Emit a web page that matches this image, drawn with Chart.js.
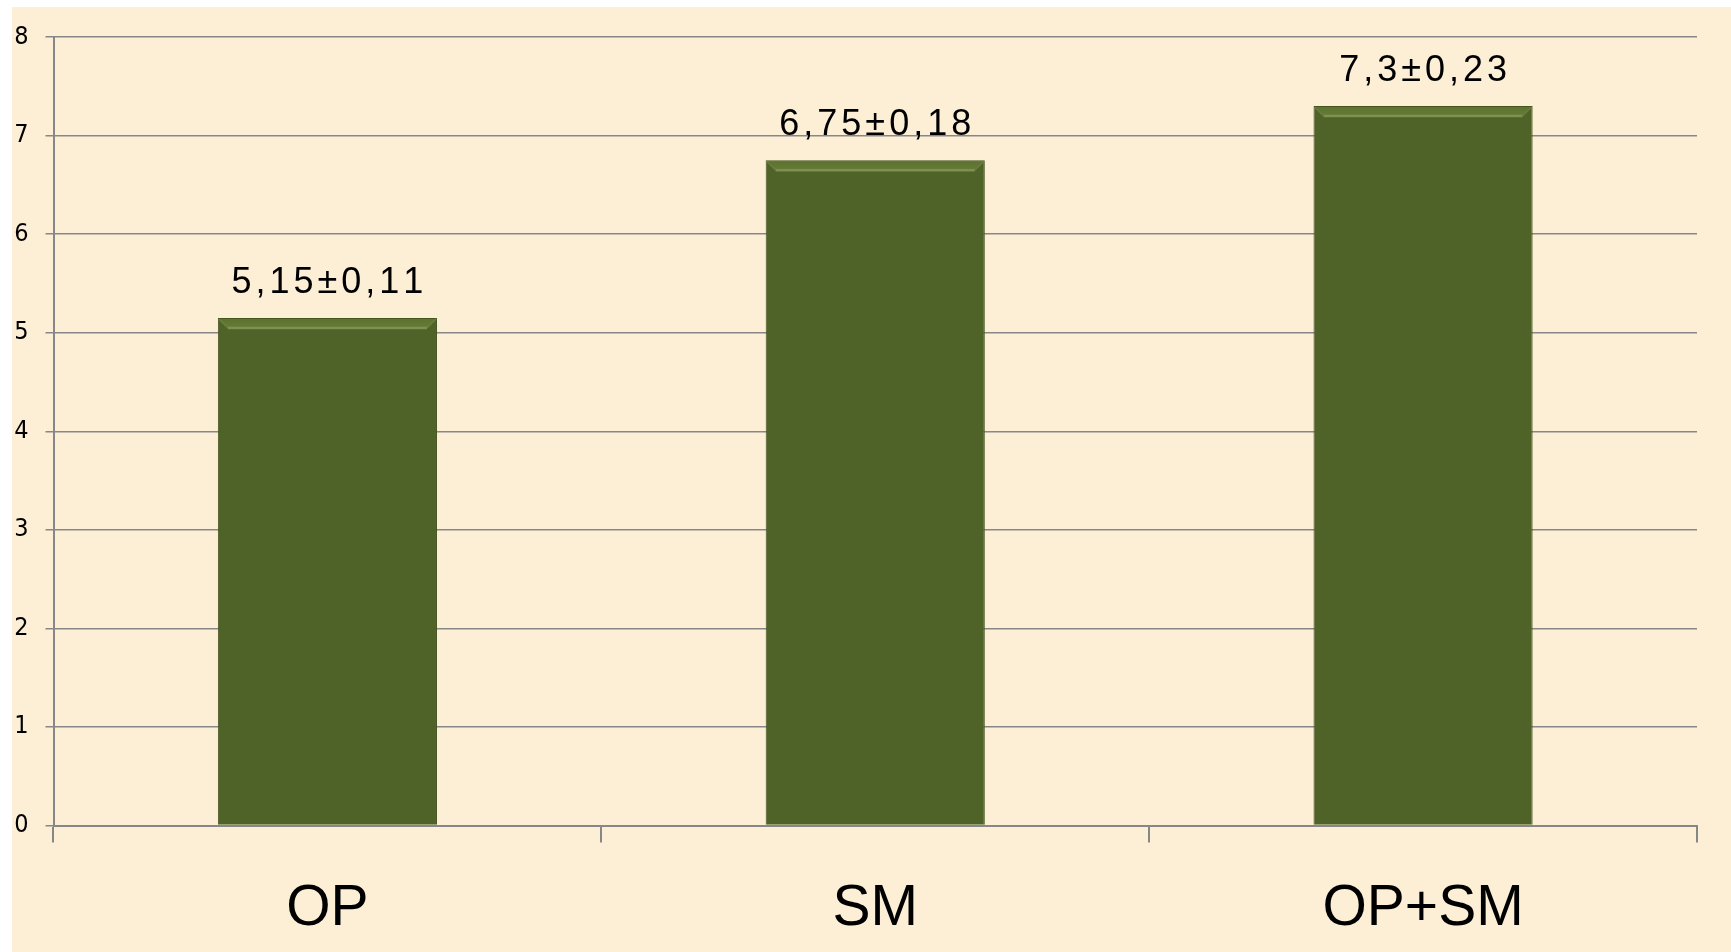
<!DOCTYPE html>
<html>
<head>
<meta charset="utf-8">
<script src="https://cdn.jsdelivr.net/npm/chart.js@4/dist/chart.umd.min.js"></script>
<style>
  html, body { margin: 0; padding: 0; background: #ffffff; }
  #wrap { width: 1731px; height: 952px; position: relative; }
  canvas { display: block; }
</style>
</head>
<body>
<div id="wrap"><canvas id="c" width="1731" height="952"></canvas></div>
<script>
// Groups and measured means with their standard errors
const categories = ['OP', 'SM', 'OP+SM'];
const meanValues = [5.15, 6.75, 7.3];
const errorValues = [0.11, 0.18, 0.23];
const yTicks = [0, 1, 2, 3, 4, 5, 6, 7, 8];

const fmt = v => String(v).replace('.', ',');

// Parchment-coloured panel behind the plot
const panelBackground = {
  id: 'panelBackground',
  beforeDraw(chart) {
    const ctx = chart.ctx;
    ctx.save();
    ctx.fillStyle = '#ffffff';
    ctx.fillRect(0, 0, chart.width, chart.height);
    ctx.fillStyle = '#fcefd6';
    ctx.fillRect(12, 7, chart.width - 12, chart.height - 7);
    ctx.restore();
  }
};

// Bevel highlight along the top of each bar
const barBevel = {
  id: 'barBevel',
  afterDatasetsDraw(chart) {
    const ctx = chart.ctx;
    const meta = chart.getDatasetMeta(0);
    ctx.save();
    meta.data.forEach(bar => {
      const l = bar.x - bar.width / 2 + 1;
      const r = bar.x + bar.width / 2 - 1;
      const t = bar.y + 1;
      const d = 9;
      const g = ctx.createLinearGradient(0, t, 0, t + d);
      g.addColorStop(0, 'rgba(95,116,48,0.9)');
      g.addColorStop(1, 'rgba(105,126,58,0.9)');
      ctx.beginPath();
      ctx.moveTo(l, t);
      ctx.lineTo(r, t);
      ctx.lineTo(r - d, t + d);
      ctx.lineTo(l + d, t + d);
      ctx.closePath();
      ctx.fillStyle = g;
      ctx.fill();
      ctx.beginPath();
      ctx.moveTo(l + d, t + d);
      ctx.lineTo(r - d, t + d);
      ctx.strokeStyle = 'rgba(128,146,82,0.95)';
      ctx.lineWidth = 2.5;
      ctx.stroke();
      ctx.beginPath();
      ctx.moveTo(l, t);
      ctx.lineTo(l + d, t + d);
      ctx.moveTo(r, t);
      ctx.lineTo(r - d, t + d);
      ctx.strokeStyle = 'rgba(110,128,66,0.8)';
      ctx.lineWidth = 1.5;
      ctx.stroke();
    });
    ctx.restore();
  }
};

// Draws a string with extra spacing between characters, centred on x
function spacedText(ctx, txt, x, y, spacing) {
  const chars = Array.from(txt);
  const widths = chars.map(c => ctx.measureText(c).width);
  const total = widths.reduce((a, b) => a + b, 0) + spacing * (chars.length - 1);
  let cx = x - total / 2;
  ctx.textAlign = 'left';
  chars.forEach((c, i) => {
    ctx.fillText(c, cx, y);
    cx += widths[i] + spacing;
  });
}

// "mean±error" text above each bar
const valueLabels = {
  id: 'valueLabels',
  afterDatasetsDraw(chart) {
    const ctx = chart.ctx;
    const meta = chart.getDatasetMeta(0);
    ctx.save();
    ctx.font = '36px "Liberation Sans", Arial, sans-serif';
    ctx.fillStyle = '#000000';
    ctx.textBaseline = 'alphabetic';
    meta.data.forEach((bar, i) => {
      const txt = fmt(meanValues[i]) + '±' + fmt(errorValues[i]);
      spacedText(ctx, txt, bar.x, bar.y - 25, 4);
    });
    ctx.restore();
  }
};

const axisGray = '#878787';

new Chart(document.getElementById('c'), {
  type: 'bar',
  data: {
    labels: categories,
    datasets: [{
      data: meanValues,
      backgroundColor: '#4f6228',
      borderColor: '#43541f',
      borderWidth: 1,
      barPercentage: 0.4,
      categoryPercentage: 1.0
    }]
  },
  options: {
    responsive: false,
    devicePixelRatio: 1,
    animation: false,
    layout: { padding: { top: 37, right: 34, left: 0, bottom: 0 } },
    plugins: {
      legend: { display: false },
      tooltip: { enabled: false }
    },
    scales: {
      x: {
        grid: {
          drawOnChartArea: false,
          drawTicks: true,
          tickLength: 17,
          color: axisGray,
          lineWidth: 2
        },
        border: { display: true, color: axisGray, width: 2 },
        ticks: {
          color: '#000000',
          font: { family: '"Liberation Sans", Arial, sans-serif', size: 57 },
          padding: 33
        },
        afterFit(scale) { scale.height = 126.5; }
      },
      y: {
        min: 0,
        max: 8,
        afterBuildTicks(scale) { scale.ticks = yTicks.map(v => ({ value: v })); },
        grid: {
          color: axisGray,
          lineWidth: 1.5,
          tickLength: 8
        },
        border: { display: true, color: axisGray, width: 2 },
        ticks: {
          color: '#000000',
          font: { family: '"Liberation Sans Narrow", "DejaVu Sans Condensed", Arial, sans-serif', size: 25 },
          padding: 17
        },
        afterFit(scale) { scale.width = 53.5; }
      }
    }
  },
  plugins: [panelBackground, barBevel, valueLabels]
});
</script>
</body>
</html>
